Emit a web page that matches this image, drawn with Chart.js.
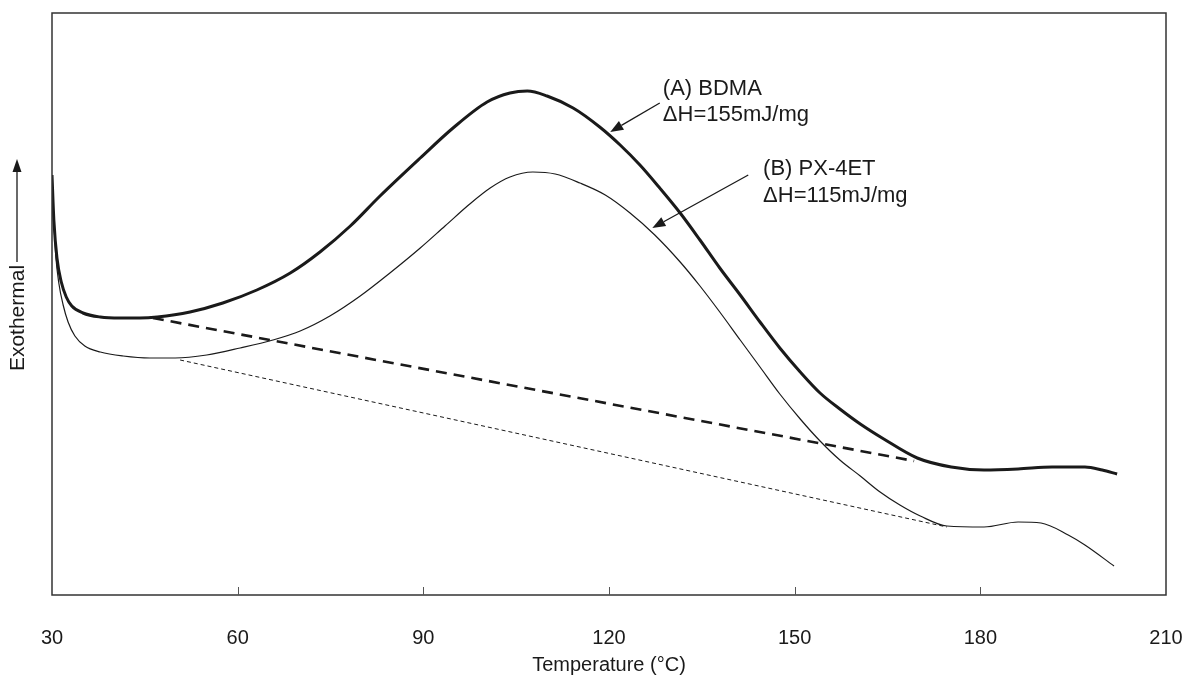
<!DOCTYPE html>
<html>
<head>
<meta charset="utf-8">
<script src="https://cdn.jsdelivr.net/npm/chart.js@4.4.1/dist/chart.umd.min.js"></script>
<style>
  html, body { margin: 0; padding: 0; background: #ffffff; }
  #wrap { width: 1186px; height: 680px; position: relative; }
</style>
</head>
<body>
<div id="wrap"><canvas id="c" width="1186" height="680"></canvas></div>
<script>
// ---- Data (temperature in °C, signal in arbitrary units) ----
const tempA = [30, 30.3, 30.8, 31.5, 32.3, 33.2, 35.0, 37.8, 41.0, 44.2, 47.0, 52.3, 57.6, 63.1, 68.5, 73.3, 78.2, 83.0, 89.5, 94.8, 100.3, 104.0, 106.8, 110.0, 114.2, 118.5, 121.8, 125.0, 128.2, 131.5, 134.7, 137.9, 141.2, 144.4, 147.6, 150.9, 154.1, 157.3, 160.6, 164.4, 169.8, 175.3, 180.6, 186.1, 191.6, 196.9, 199.7, 202.1];
const valA  = [420, 375, 337, 313, 298, 289, 282, 278, 277, 277, 278, 283, 292, 305, 322, 343, 369, 399, 437, 467, 493, 502, 504, 499, 487, 468, 450, 430, 407, 382, 355, 327, 300, 273, 247, 223, 202, 186, 171, 156, 137, 128, 125, 126, 128, 128, 125, 121];

const tempB = [30, 30.3, 30.6, 31.1, 31.8, 32.6, 33.7, 35.3, 37.8, 41.5, 45.8, 49.9, 55.0, 60.4, 65.7, 70.1, 74.9, 79.8, 84.6, 89.5, 93.5, 97.5, 100.8, 104.0, 107.7, 111.3, 115.3, 119.4, 123.4, 127.4, 131.5, 134.7, 137.9, 141.2, 144.4, 147.6, 150.9, 154.1, 157.3, 160.6, 163.8, 167.0, 170.3, 174.6, 180.6, 186.1, 189.8, 194.2, 196.9, 201.6];
const valB  = [420, 375, 340, 312, 290, 273, 259, 249, 243, 239, 237, 237, 240, 247, 255, 264, 279, 299, 322, 347, 369, 391, 407, 418, 423, 421, 412, 400, 382, 360, 333, 309, 283, 255, 228, 201, 176, 154, 135, 119, 103, 90, 79, 69, 68, 73, 72, 60, 50, 29];

const baseA_T = [46.3, 169.3];
const baseA_V = [277, 134];
const baseB_T = [50.7, 174.6];
const baseB_V = [235, 68];

const xTicks = [30, 60, 90, 120, 150, 180, 210];

const labelA = ['(A) BDMA', '\u0394H=155mJ/mg'];
const labelB = ['(B) PX-4ET', '\u0394H=115mJ/mg'];
// annotation anchors in data units
const annA = { textT: 128.7, textV: [500, 474], fromT: 128.2, fromV: 492, toT: 120.2, toV: 463 };
const annB = { textT: 144.9, textV: [420, 393], fromT: 142.5, fromV: 420, toT: 127.0, toV: 367 };

const FONT = '"Liberation Sans", Arial, sans-serif';
const INK = '#1a1a1a';

function pts(xs, ys) { return xs.map((x, i) => ({ x: x, y: ys[i] })); }

const framePlugin = {
  id: 'frame',
  afterDraw(chart) {
    const { ctx, chartArea: a, scales } = chart;
    const xs = scales.x, ys = scales.y;
    ctx.save();
    ctx.strokeStyle = '#333';
    ctx.lineWidth = 1.5;
    ctx.strokeRect(a.left, a.top, a.right - a.left, a.bottom - a.top);
    ctx.lineWidth = 1;
    ctx.strokeStyle = '#555';
    xTicks.slice(1, -1).forEach(t => {
      const px = Math.round(xs.getPixelForValue(t)) + 0.5;
      ctx.beginPath();
      ctx.moveTo(px, a.bottom);
      ctx.lineTo(px, a.bottom - 8);
      ctx.stroke();
    });

    ctx.fillStyle = INK;
    ctx.strokeStyle = INK;
    ctx.font = '21px ' + FONT;
    const lx = 17, ly = 318;
    ctx.save();
    ctx.translate(lx, ly);
    ctx.rotate(-Math.PI / 2);
    ctx.textAlign = 'center';
    ctx.textBaseline = 'middle';
    ctx.fillText('Exothermal', 0, 1);
    ctx.restore();
    ctx.lineWidth = 1.3;
    ctx.beginPath();
    ctx.moveTo(lx, 262);
    ctx.lineTo(lx, 170);
    ctx.stroke();
    ctx.beginPath();
    ctx.moveTo(lx, 159);
    ctx.lineTo(lx - 4.5, 172);
    ctx.lineTo(lx + 4.5, 172);
    ctx.closePath();
    ctx.fill();

    function ann(lines, an) {
      const tx = xs.getPixelForValue(an.textT);
      ctx.textAlign = 'left';
      ctx.textBaseline = 'alphabetic';
      ctx.font = '22px ' + FONT;
      lines.forEach((s, i) => ctx.fillText(s, tx, ys.getPixelForValue(an.textV[i])));
      const x1 = xs.getPixelForValue(an.fromT), y1 = ys.getPixelForValue(an.fromV);
      const x2 = xs.getPixelForValue(an.toT), y2 = ys.getPixelForValue(an.toV);
      const ang = Math.atan2(y2 - y1, x2 - x1);
      const hl = 13, hw = 5;
      const bx = x2 - hl * Math.cos(ang), by = y2 - hl * Math.sin(ang);
      ctx.lineWidth = 1.3;
      ctx.beginPath();
      ctx.moveTo(x1, y1);
      ctx.lineTo(bx, by);
      ctx.stroke();
      ctx.beginPath();
      ctx.moveTo(x2, y2);
      ctx.lineTo(bx + hw * Math.sin(ang), by - hw * Math.cos(ang));
      ctx.lineTo(bx - hw * Math.sin(ang), by + hw * Math.cos(ang));
      ctx.closePath();
      ctx.fill();
    }
    ann(labelA, annA);
    ann(labelB, annB);
    ctx.restore();
  }
};

new Chart(document.getElementById('c'), {
  type: 'line',
  data: {
    datasets: [
      { label: '(A) BDMA', data: pts(tempA, valA), borderColor: INK, borderWidth: 3, pointRadius: 0, tension: 0.4, cubicInterpolationMode: 'monotone', fill: false },
      { label: '(B) PX-4ET', data: pts(tempB, valB), borderColor: INK, borderWidth: 1.2, pointRadius: 0, tension: 0.4, cubicInterpolationMode: 'monotone', fill: false },
      { label: 'Baseline A', data: pts(baseA_T, baseA_V), borderColor: INK, borderWidth: 2.6, borderDash: [11, 7], pointRadius: 0, fill: false },
      { label: 'Baseline B', data: pts(baseB_T, baseB_V), borderColor: INK, borderWidth: 1, borderDash: [4, 3], pointRadius: 0, fill: false }
    ]
  },
  options: {
    responsive: false,
    animation: false,
    devicePixelRatio: 1,
    layout: { padding: { left: 52, top: 13, right: 20, bottom: 0 } },
    plugins: { legend: { display: false }, tooltip: { enabled: false } },
    scales: {
      x: {
        type: 'linear',
        min: 30, max: 210,
        afterBuildTicks(scale) { scale.ticks = xTicks.map(v => ({ value: v })); },
        afterFit(scale) { scale.height = 85; scale.paddingLeft = 0; scale.paddingRight = 0; },
        grid: { display: false, drawTicks: false },
        border: { display: false },
        ticks: { color: INK, font: { family: FONT, size: 20 }, padding: 31, maxRotation: 0, autoSkip: false },
        title: { display: true, text: 'Temperature (\u00B0C)', color: INK, font: { family: FONT, size: 20 }, padding: { top: 0, bottom: 3 } }
      },
      y: {
        type: 'linear',
        min: 0, max: 582,
        display: false
      }
    }
  },
  plugins: [framePlugin]
});
</script>
</body>
</html>
